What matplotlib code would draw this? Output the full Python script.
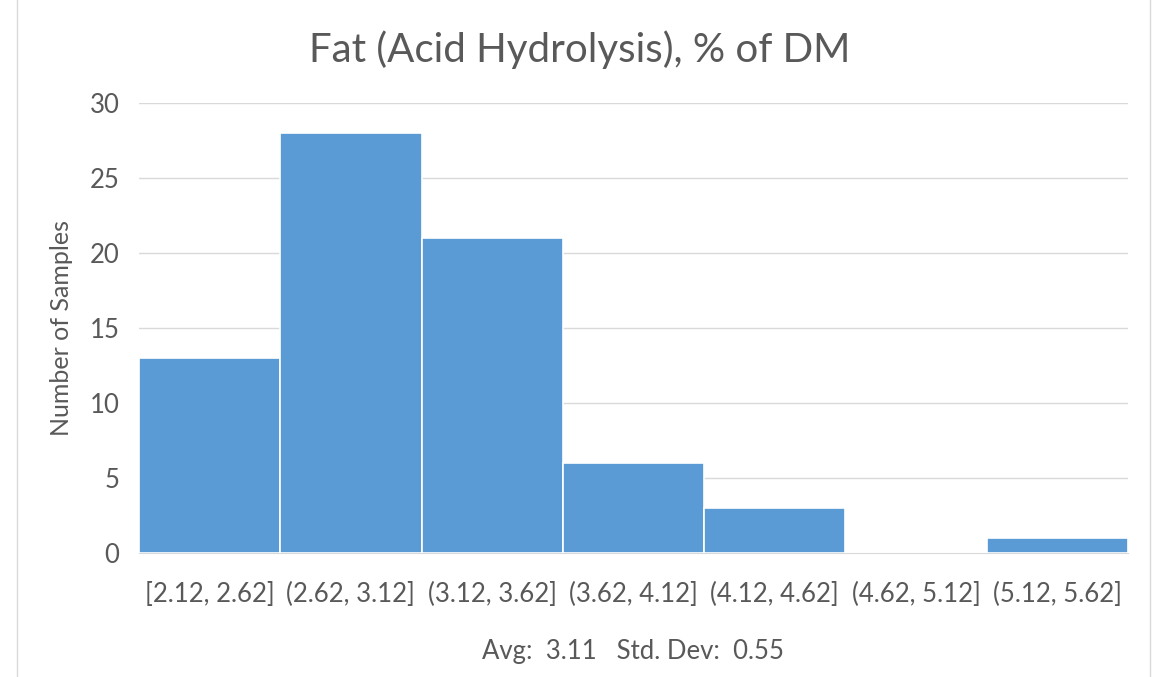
import matplotlib
matplotlib.use("Agg")
import matplotlib.pyplot as plt
from matplotlib.patches import Rectangle

categories = ["[2.12, 2.62]", "(2.62, 3.12]", "(3.12, 3.62]", "(3.62, 4.12]",
              "(4.12, 4.62]", "(4.62, 5.12]", "(5.12, 5.62]"]
counts = [13, 28, 21, 6, 3, 0, 1]
yticks = [0, 5, 10, 15, 20, 25, 30]
title = "Fat (Acid Hydrolysis), % of DM"
ylabel = "Number of Samples"
stats_text = "Avg:  3.11   Std. Dev:  0.55"

plt.rcParams['font.family'] = ['Lato', 'DejaVu Sans']
txt = '#595959'

fig = plt.figure(figsize=(11.59, 6.77), dpi=100)
ax = fig.add_axes([139/1159, 1-553/677, 989/1159, 450/677])

x = list(range(len(categories)))
ax.bar(x, counts, width=1.0, color='#5B9BD5', edgecolor='white', linewidth=1.2, zorder=3)
ax.set_xlim(-0.5, len(categories) - 0.5)
ax.set_ylim(0, 30)
ax.set_yticks(yticks)
ax.set_xticks(x)
ax.set_xticklabels(categories, fontsize=18.5, color=txt)
ax.tick_params(axis='y', labelsize=18.5, colors=txt, length=0, pad=14)
ax.tick_params(axis='x', length=0, pad=21)
for lab in ax.get_yticklabels():
    lab.set_color(txt)
ax.grid(axis='y', color='#D9D9D9', linewidth=1, zorder=0)
for s in ['top', 'right', 'left']:
    ax.spines[s].set_visible(False)
ax.spines['bottom'].set_color('#D9D9D9')

ax.set_ylabel(ylabel, fontsize=18, color=txt, labelpad=12)
fig.text(580/1159, 1-50/677, title, ha='center', va='center', fontsize=29, color=txt)
fig.text(633/1159, 1-651/677, stats_text, ha='center', va='center', fontsize=18.5, color=txt)

fig.patches.append(Rectangle((17/1159, -0.01), (1150-17)/1159, 1.02, transform=fig.transFigure,
                             fill=False, edgecolor='#D9D9D9', linewidth=1))

fig.savefig('out.png', dpi=100)
